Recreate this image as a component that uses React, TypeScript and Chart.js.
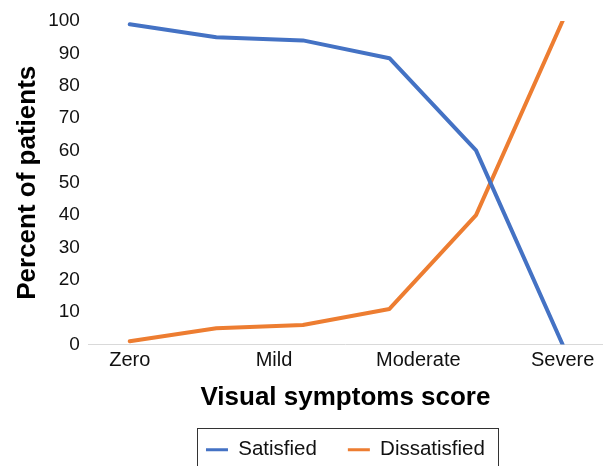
import React, { useEffect, useRef } from "react";
import { Chart, registerables } from "chart.js";

Chart.register(...registerables);

const xTickLabels = ["Zero", "Mild", "Moderate", "Severe"];
const scorePositions = [0, 0.6, 1.2, 1.8, 2.4, 3];
const satisfied = [99, 95, 94, 88.5, 60, 0];
const dissatisfied = [1, 5, 6, 11, 40, 100];
const seriesNames = ["Satisfied", "Dissatisfied"];
const seriesColors = ["#4472C4", "#ED7D31"];

const FONT = "'Liberation Sans', Arial, Helvetica, sans-serif";

const legendBorder = {
  id: "legendBorder",
  afterDraw(chart: any) {
    const lg = chart.legend;
    if (!lg || !lg.legendHitBoxes || !lg.legendHitBoxes.length) return;
    const hb = lg.legendHitBoxes;
    const left = Math.min(...hb.map((h: any) => h.left)) - 9;
    const right = Math.max(...hb.map((h: any) => h.left + h.width)) + 13;
    const top = Math.min(...hb.map((h: any) => h.top)) - 12;
    const bottom = chart.height + 5;
    const ctx = chart.ctx;
    ctx.save();
    ctx.strokeStyle = "#333";
    ctx.lineWidth = 1;
    ctx.strokeRect(Math.round(left) + 0.5, Math.round(top) + 0.5, Math.round(right - left), bottom - top);
    ctx.restore();
  },
};

export default function App() {
  const ref = useRef<HTMLCanvasElement | null>(null);
  useEffect(() => {
    if (!ref.current) return;
    const mk = (vals: number[]) => scorePositions.map((x, i) => ({ x, y: vals[i] }));
    const chart = new Chart(ref.current, {
      type: "line",
      data: {
        datasets: [
          {
            label: seriesNames[0],
            data: mk(satisfied),
            borderColor: seriesColors[0],
            backgroundColor: seriesColors[0],
            borderWidth: 4,
            pointRadius: 0,
            tension: 0,
            borderJoinStyle: "round",
            borderCapStyle: "round",
          },
          {
            label: seriesNames[1],
            data: mk(dissatisfied),
            borderColor: seriesColors[1],
            backgroundColor: seriesColors[1],
            borderWidth: 4,
            pointRadius: 0,
            tension: 0,
            borderJoinStyle: "round",
            borderCapStyle: "round",
          },
        ],
      },
      options: {
        responsive: false,
        animation: false,
        layout: { padding: { top: 21, left: 0, right: 0, bottom: -4 } },
        plugins: {
          tooltip: { enabled: false },
          legend: {
            position: "bottom",
            fullSize: false,
            labels: {
              font: { family: FONT, size: 20.5 },
              color: "#111",
              boxWidth: 22,
              boxHeight: 3,
              padding: 31,
              generateLabels: (c: any) =>
                c.data.datasets.map((ds: any, i: number) => ({
                  text: ds.label,
                  fillStyle: ds.borderColor,
                  strokeStyle: ds.borderColor,
                  lineWidth: 0,
                  hidden: false,
                  datasetIndex: i,
                  fontColor: "#111",
                })),
            },
          },
        },
        scales: {
          x: {
            type: "linear",
            min: -0.29,
            max: 3.28,
            grid: { display: false, drawTicks: false },
            border: { display: false },
            afterBuildTicks: (s: any) => {
              s.ticks = xTickLabels.map((_, i) => ({ value: i }));
            },
            ticks: {
              autoSkip: false,
              maxRotation: 0,
              padding: 4,
              color: "#111",
              font: { family: FONT, size: 20 },
              callback: (v: any) => xTickLabels[v] ?? "",
            },
            title: {
              display: true,
              text: "Visual symptoms score",
              color: "#000",
              font: { family: FONT, size: 26, weight: "bold", lineHeight: 1 },
              padding: { top: 8, bottom: -2 },
            },
          },
          y: {
            min: 0,
            max: 100,
            grid: {
              drawTicks: false,
              color: (ctx: any) => (ctx.tick && ctx.tick.value === 0 ? "#d9d9d9" : "rgba(0,0,0,0)"),
              lineWidth: 1,
            },
            border: { display: false },
            ticks: {
              stepSize: 10,
              padding: 8,
              color: "#111",
              font: { family: FONT, size: 19 },
            },
            title: {
              display: true,
              text: "Percent of patients",
              color: "#000",
              font: { family: FONT, size: 26, weight: "bold", lineHeight: 1.2 },
              padding: { top: 12, bottom: -3 },
            },
          },
        },
      },
      plugins: [legendBorder],
    });
    return () => chart.destroy();
  }, []);
  return (
    <div style={{ position: "fixed", left: 0, top: 0, width: 603, height: 466, background: "#fff" }}>
      <canvas ref={ref} width={603} height={466} />
    </div>
  );
}
